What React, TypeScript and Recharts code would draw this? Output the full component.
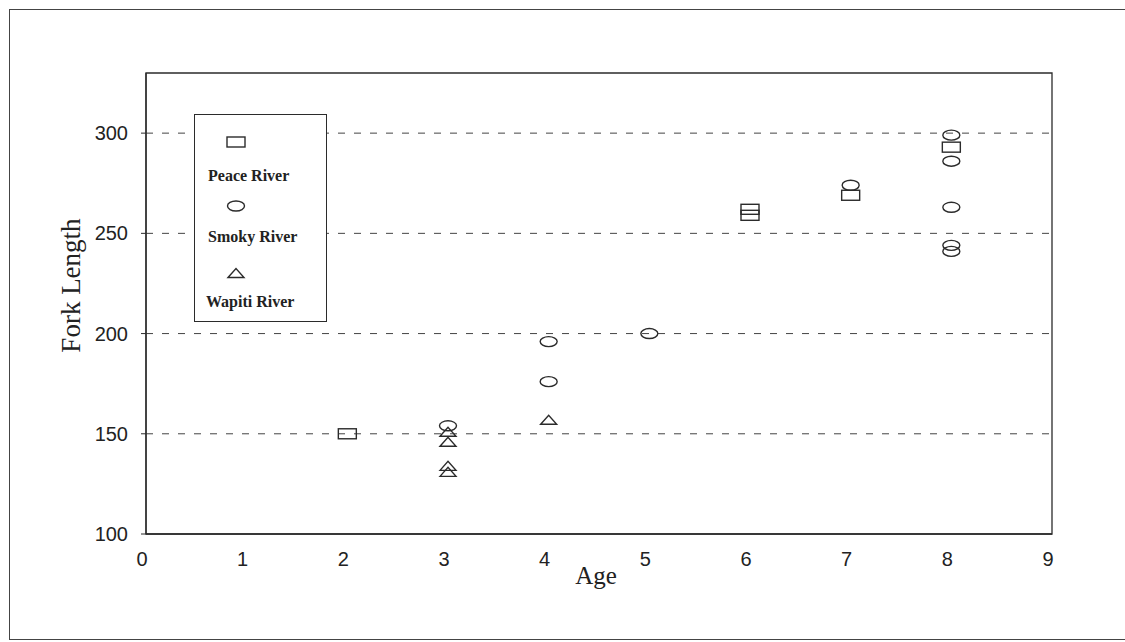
import React from 'react';
import { ScatterChart, Scatter, XAxis, YAxis, ReferenceLine, ReferenceArea, Legend } from 'recharts';

// ---- data ----
const ageTicks = [0, 1, 2, 3, 4, 5, 6, 7, 8, 9];
const lengthTicks = [100, 150, 200, 250, 300];
const gridValues = [150, 200, 250, 300];
const seriesNames = ['Peace River', 'Smoky River', 'Wapiti River'];

const peaceAges = [2, 6, 6, 7, 8];
const peaceLengths = [150, 262, 259, 269, 293];

const smokyAges = [3, 4, 4, 5, 7, 8, 8, 8, 8, 8];
const smokyLengths = [154, 196, 176, 200, 274, 299, 286, 263, 244, 241];

const wapitiAges = [3, 3, 3, 3, 4];
const wapitiLengths = [151, 146, 134, 131, 157];

const toPoints = (ages: number[], lengths: number[]) =>
  ages.map((a, i) => ({ age: a, length: lengths[i] }));

const peaceData = toPoints(peaceAges, peaceLengths);
const smokyData = toPoints(smokyAges, smokyLengths);
const wapitiData = toPoints(wapitiAges, wapitiLengths);

const INK = '#2b2b2b';
const SERIF = '"Liberation Serif", "DejaVu Serif", serif';
const SANS = '"Liberation Sans", Arial, sans-serif';

const SquareMark = (props: any) => {
  const { cx, cy } = props;
  if (cx == null || cy == null) return null;
  return <rect x={cx - 9} y={cy - 5} width={18} height={10} fill="none" stroke={INK} strokeWidth={1.4} />;
};
const EllipseMark = (props: any) => {
  const { cx, cy } = props;
  if (cx == null || cy == null) return null;
  return <ellipse cx={cx} cy={cy} rx={8.5} ry={5} fill="none" stroke={INK} strokeWidth={1.4} />;
};
const TriangleMark = (props: any) => {
  const { cx, cy } = props;
  if (cx == null || cy == null) return null;
  return (
    <polygon
      points={`${cx - 8},${cy + 4.5} ${cx},${cy - 4.5} ${cx + 8},${cy + 4.5}`}
      fill="none"
      stroke={INK}
      strokeWidth={1.4}
      strokeLinejoin="miter"
    />
  );
};

const markShapes = [SquareMark, EllipseMark, TriangleMark];

const LegendBox = () => {
  const markerY = [27, 91, 158];
  const textY = [66, 127, 192];
  return (
    <div
      style={{
        width: 133,
        height: 208,
        border: `1.5px solid ${INK}`,
        boxSizing: 'border-box',
        background: '#fff',
      }}
    >
      <svg width={130} height={205} style={{ display: 'block' }}>
        {seriesNames.map((name, i) => {
          const Shape = markShapes[i];
          return (
            <g key={name}>
              <Shape cx={41} cy={markerY[i]} />
              <text
                x={i === 2 ? 11 : 13}
                y={textY[i]}
                fontFamily={SERIF}
                fontSize={16}
                fontWeight="bold"
                fill="#222"
              >
                {name}
              </text>
            </g>
          );
        })}
      </svg>
    </div>
  );
};

const YTitle = (props: any) => {
  const vb = props.viewBox || { x: 0, y: 73, width: 146, height: 461 };
  const x = vb.x + 80;
  const y = vb.y + vb.height / 2 - 18;
  return (
    <text
      x={x}
      y={y}
      transform={`rotate(-90, ${x}, ${y})`}
      textAnchor="middle"
      fontFamily={SERIF}
      fontSize={27}
      fill="#222"
    >
      Fork Length
    </text>
  );
};

const XTitle = (props: any) => {
  const vb = props.viewBox || { x: 146, y: 534, width: 906, height: 60 };
  return (
    <text
      x={vb.x + vb.width / 2 - 3}
      y={vb.y + 50}
      textAnchor="middle"
      fontFamily={SERIF}
      fontSize={25}
      fill="#222"
    >
      Age
    </text>
  );
};

export default function App() {
  return (
    <div style={{ position: 'absolute', left: 0, top: 0, width: 1125, height: 642, background: '#fff', overflow: 'hidden' }}>
      <div
        style={{
          position: 'absolute',
          left: 9,
          top: 9,
          width: 1130,
          height: 631,
          borderTop: `1.5px solid #444`,
          borderLeft: `1.5px solid #444`,
          borderBottom: `1.5px solid #444`,
          boxSizing: 'border-box',
        }}
      />
      <div style={{ position: 'absolute', left: 0, top: 0 }}>
        <ScatterChart width={1125} height={642} margin={{ top: 73, right: 73, bottom: 48, left: 0 }}>
          <XAxis
            type="number"
            dataKey="age"
            domain={[0, 9]}
            ticks={ageTicks}
            interval={0}
            allowDataOverflow
            height={60}
            axisLine={{ stroke: INK, strokeWidth: 1.3 }}
            tickLine={false}
            tickMargin={12}
            tick={{ fontFamily: SANS, fontSize: 20, fill: '#222', dx: -4 }}
            label={{ content: XTitle }}
          />
          <YAxis
            type="number"
            dataKey="length"
            domain={[100, 330]}
            ticks={lengthTicks}
            interval={0}
            allowDataOverflow
            width={146}
            axisLine={{ stroke: INK, strokeWidth: 1.3 }}
            tickLine={{ stroke: INK }}
            tickSize={5}
            tickMargin={13}
            tick={{ fontFamily: SANS, fontSize: 20, fill: '#222' }}
            label={{ content: YTitle }}
          />
          {gridValues.map((v) => (
            <ReferenceLine key={v} y={v} stroke="#444" strokeWidth={1} strokeDasharray="7 9" />
          ))}
          <ReferenceArea x1={0} x2={9} y1={100} y2={330} fill="none" stroke={INK} strokeWidth={1.3} />
          <Legend
            layout="vertical"
            align="center"
            verticalAlign="middle"
            content={() => <LegendBox />}
            wrapperStyle={{ left: 194, top: 114, width: 133, height: 208, right: 'auto', bottom: 'auto' }}
          />
          <Scatter name={seriesNames[0]} data={peaceData} shape={SquareMark} isAnimationActive={false} />
          <Scatter name={seriesNames[1]} data={smokyData} shape={EllipseMark} isAnimationActive={false} />
          <Scatter name={seriesNames[2]} data={wapitiData} shape={TriangleMark} isAnimationActive={false} />
        </ScatterChart>
      </div>
    </div>
  );
}
